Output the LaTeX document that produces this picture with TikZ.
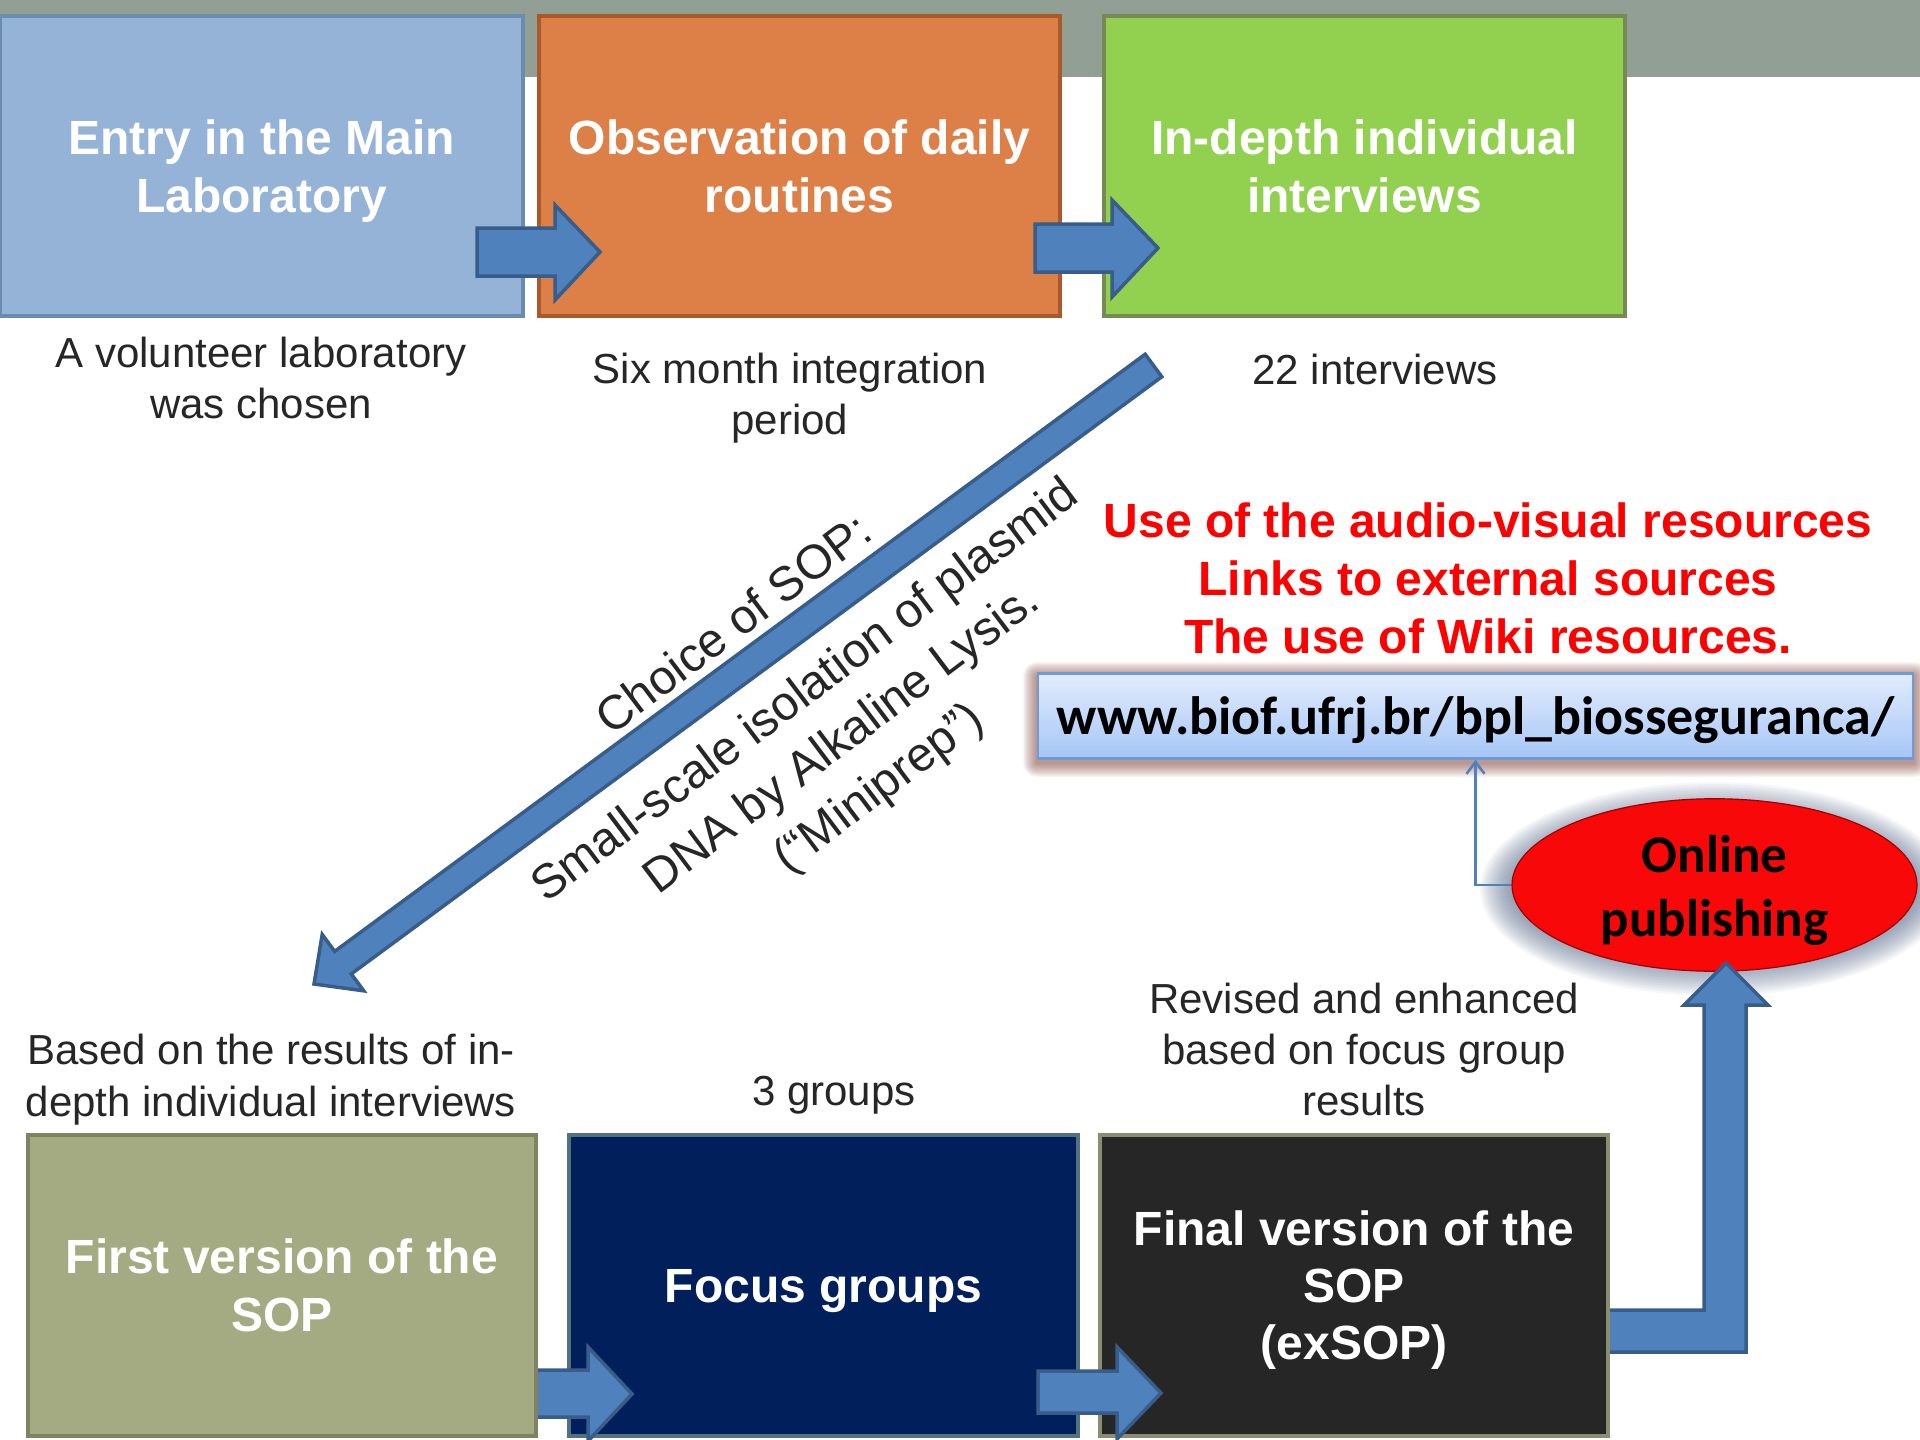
\documentclass[tikz,border=0pt]{standalone}
\usepackage{fontspec}
\setmainfont{Liberation Sans}
\newfontfamily\calfont{Carlito}
\usetikzlibrary{calc,shapes.geometric,arrows.meta}
\definecolor{topbar}{HTML}{929F95}
\definecolor{bafill}{HTML}{95B3D7}\definecolor{baline}{HTML}{6A8CAF}
\definecolor{bbfill}{HTML}{DD8047}\definecolor{bbline}{HTML}{A9592B}
\definecolor{bcfill}{HTML}{92D050}\definecolor{bcline}{HTML}{768A55}
\definecolor{bdfill}{HTML}{A4AA82}\definecolor{bdline}{HTML}{7E8462}
\definecolor{befill}{HTML}{011F5B}\definecolor{beline}{HTML}{52737E}
\definecolor{bffill}{HTML}{262626}\definecolor{bfline}{HTML}{8A8E6E}
\definecolor{arrfill}{HTML}{4F81BD}\definecolor{arrline}{HTML}{385D8A}
\definecolor{labtext}{HTML}{262626}
\definecolor{urltop}{HTML}{E2ECFD}\definecolor{urlbot}{HTML}{A6C6F7}
\definecolor{urlline}{HTML}{6F9AD6}\definecolor{urlshadow}{HTML}{7A3A30}
\definecolor{pubred}{HTML}{F80808}\definecolor{publine}{HTML}{A00000}
\definecolor{glow}{HTML}{4A5E80}
\begin{document}
\begin{tikzpicture}[x=1pt,y=-1pt,
  box/.style={draw, line width=4pt, minimum height=300pt, inner sep=0pt, text depth=0pt,
    text=white, align=center, font=\bfseries\fontsize{48}{58}\selectfont},
  lab/.style={text=labtext, align=center, inner sep=0pt, font=\fontsize{42}{51}\selectfont},
  diag/.style={text=labtext, align=center, inner sep=0pt, rotate=37, font=\fontsize{48}{61}\selectfont},
  blk/.style={fill=arrfill, draw=arrline, line width=3.5pt, line join=miter},
  conn/.style={draw=arrfill, line width=2.5pt, -{Straight Barb[length=12pt,width=18pt]}},
  urlbox/.style={draw=urlline, line width=2.5pt, top color=urltop, bottom color=urlbot,
    minimum width=875pt, minimum height=85pt, inner sep=0pt, text height=36pt, text depth=0pt,
    font=\calfont\bfseries\fontsize{54}{64}\selectfont},
  pubnode/.style={ellipse, fill=pubred, draw=publine, line width=1.2pt, inner sep=0pt,
    minimum width=405pt, minimum height=150pt, align=center, text height=112pt, text depth=10pt,
    font=\calfont\bfseries\fontsize{53}{64}\selectfont}
]
\useasboundingbox (0,0) rectangle (1920,1440);
\fill[topbar] (0,0) rectangle (1920,77);

% top row
\node[box, fill=bafill, draw=baline, minimum width=523pt] (b1) at (261.5,166) {Entry in the Main\\Laboratory};
\node[box, fill=bbfill, draw=bbline, minimum width=521pt] (b2) at (799.5,166) {Observation of daily\\routines};
\node[box, fill=bcfill, draw=bcline, minimum width=521pt] (b3) at (1364.5,166) {In-depth individual\\interviews};
\draw[blk] (477,228) -- (555,228) -- (555,205) -- (600,252) -- (555,300) -- (555,276) -- (477,276) -- cycle;
\draw[blk] (1035,224) -- (1112,224) -- (1112,200) -- (1158,248) -- (1112,297) -- (1112,272) -- (1035,272) -- cycle;

% labels
\node[lab] (l1) at (261,378) {A volunteer laboratory\\was chosen};
\node[lab] (l2) at (790,398) {Six month integration\\period};
\node[lab] (l3) at (1375,369) {22 interviews};
\node[lab, font=\fontsize{42}{52}\selectfont] (l4) at (271,1080) {Based on the results of in-\\depth individual interviews};
\node[lab] (l5) at (834,1095) {3 groups};
\node[lab] (l6) at (1364,1049) {Revised and enhanced\\based on focus group\\results};

% diagonal arrow
\coordinate (dA) at (1153.5,365.5);
\coordinate (dB) at (314,984);
\coordinate (dH) at ($(dB)!36pt!(dA)$);
\draw[blk] ($(dA)!14pt!90:(dB)$) -- ($(dH)!14pt!-90:(dA)$) -- ($(dH)!35pt!-90:(dA)$) -- (dB)
  -- ($(dH)!35pt!90:(dA)$) -- ($(dH)!14pt!90:(dA)$) -- ($(dA)!14pt!-90:(dB)$) -- cycle;
\node[diag] (sopc) at (733,623) {Choice of SOP:};
\node[diag] (sopd) at (843,741) {Small-scale isolation of plasmid\\DNA by Alkaline Lysis.\\(“Miniprep”)};

% red text
\node[text=red, align=center, inner sep=0pt, font=\bfseries\fontsize{48}{58}\selectfont] (res) at (1488,578)
  {Use of the audio-visual resources\\Links to external sources\\The use of Wiki resources.};

% url box with shadow
\foreach \i in {1,...,14}
  \fill[urlshadow, opacity=0.05, rounded corners={\i*1pt}] ({1037-\i},{672-\i+4}) rectangle ({1914+\i},{759+\i+4});
\node[urlbox] (url) at (1475.5,716) {www.biof.ufrj.br/bpl\_biosseguranca/};

% online publishing ellipse with glow
\foreach \i in {1,...,16}
  \fill[glow, opacity=0.05] (1714.5,889) ellipse ({202.5+2*\i} and {75+2*\i});
\node[pubnode] (pub) at (1714.5,885) {Online\\publishing};
\draw[conn] (pub.west) -| (url.south);

% bottom row
\node[box, fill=befill, draw=beline, minimum width=509pt, minimum height=301pt] (b5) at (823.5,1285.5) {Focus groups};
\draw[blk] (1590,1310) -- (1704,1310) -- (1704,1005) -- (1684,1005) -- (1726,963) -- (1768,1005) -- (1746,1005) -- (1746,1352) -- (1590,1352) -- cycle;
\node[box, fill=bffill, draw=bfline, minimum width=508pt, minimum height=301pt, font=\bfseries\fontsize{48}{57}\selectfont] (b6) at (1354,1285.5) {Final version of the\\SOP\\(exSOP)};
\draw[blk] (520,1370) -- (588,1370) -- (588,1347) -- (632,1394) -- (588,1441) -- (588,1417) -- (520,1417) -- cycle;
\node[box, fill=bdfill, draw=bdline, minimum width=508pt, minimum height=301pt] (b4) at (282,1285.5) {First version of the\\SOP};
\draw[blk] (1038,1371) -- (1117,1371) -- (1117,1347) -- (1161,1393) -- (1117,1439) -- (1117,1413) -- (1038,1413) -- cycle;
\end{tikzpicture}
\end{document}
